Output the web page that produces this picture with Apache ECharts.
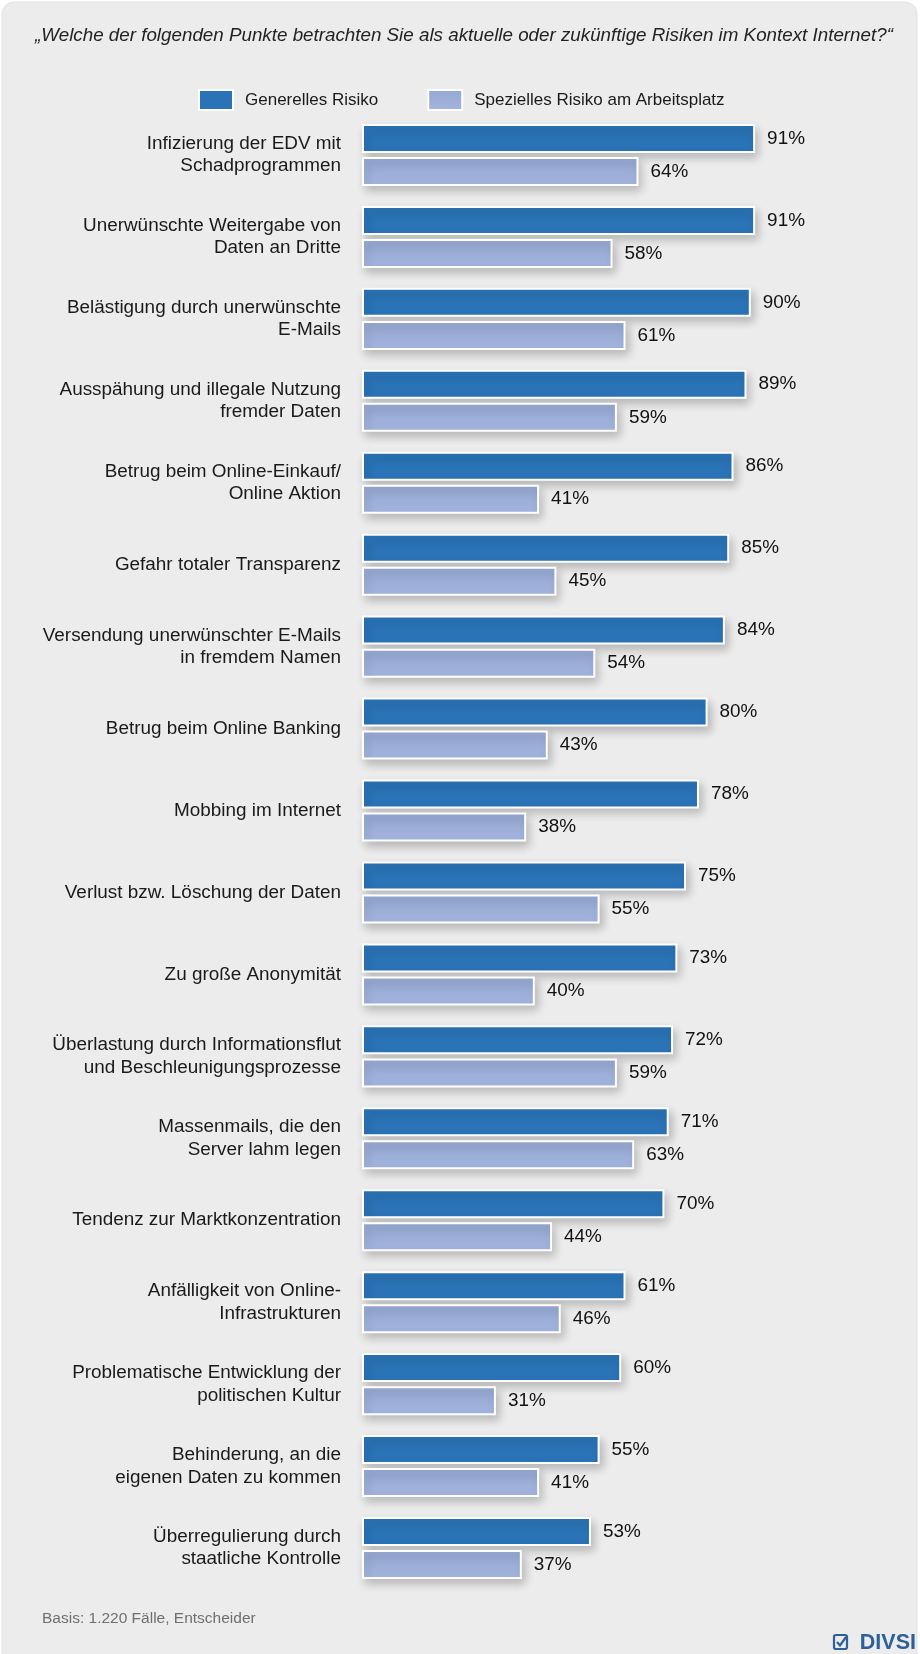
<!DOCTYPE html>
<html>
<head>
<meta charset="utf-8">
<script src="https://cdn.jsdelivr.net/npm/echarts@6/dist/echarts.min.js"></script>
<style>
html,body{margin:0;padding:0;background:#fff;}
#c{width:920px;height:1654px;}
</style>
</head>
<body>
<div id="c"></div>
<script>
var categories = [
  "Infizierung der EDV mit\nSchadprogrammen",
  "Unerwünschte Weitergabe von\nDaten an Dritte",
  "Belästigung durch unerwünschte\nE-Mails",
  "Ausspähung und illegale Nutzung\nfremder Daten",
  "Betrug beim Online-Einkauf/\nOnline Aktion",
  "Gefahr totaler Transparenz",
  "Versendung unerwünschter E-Mails\nin fremdem Namen",
  "Betrug beim Online Banking",
  "Mobbing im Internet",
  "Verlust bzw. Löschung der Daten",
  "Zu große Anonymität",
  "Überlastung durch Informationsflut\nund Beschleunigungsprozesse",
  "Massenmails, die den\nServer lahm legen",
  "Tendenz zur Marktkonzentration",
  "Anfälligkeit von Online-\nInfrastrukturen",
  "Problematische Entwicklung der\npolitischen Kultur",
  "Behinderung, an die\neigenen Daten zu kommen",
  "Überregulierung durch\nstaatliche Kontrolle"
];
var generellesRisiko = [91, 91, 90, 89, 86, 85, 84, 80, 78, 75, 73, 72, 71, 70, 61, 60, 55, 53];
var speziellesRisiko = [64, 58, 61, 59, 41, 45, 54, 43, 38, 55, 40, 59, 63, 44, 46, 31, 41, 37];
var seriesNames = ["Generelles Risiko", "Spezielles Risiko am Arbeitsplatz"];
var titleText = "„Welche der folgenden Punkte betrachten Sie als aktuelle oder zukünftige Risiken im Kontext Internet?“";
var footerText = "Basis: 1.220 Fälle, Entscheider";
var logoText = "DIVSI";

var FONT = "Liberation Sans, Arial, sans-serif";
var chart = echarts.init(document.getElementById('c'), null, {renderer: 'canvas'});

var shadow = {shadowColor: 'rgba(0,0,0,0.22)', shadowBlur: 9, shadowOffsetX: 3, shadowOffsetY: 5};

chart.setOption({
  backgroundColor: '#ffffff',
  animation: false,
  graphic: [
    {type: 'rect', z: -10, shape: {x: 2, y: 2, width: 915, height: 1670, r: 12},
     style: {fill: '#ececec', stroke: '#e2e2e2', lineWidth: 1}},
    {type: 'text', x: 464, y: 36, z: 10,
     style: {text: titleText, fill: '#222', font: 'italic 18.8px ' + FONT, textAlign: 'center', textVerticalAlign: 'middle'}},
    {type: 'text', x: 42, y: 1619, z: 10,
     style: {text: footerText, fill: '#6f6f6f', font: '15.5px ' + FONT, textAlign: 'left', textVerticalAlign: 'middle'}},
    {type: 'rect', z: 10, shape: {x: 834, y: 1635, width: 13, height: 14, r: 2},
     style: {fill: 'none', stroke: '#2d6096', lineWidth: 2.2}},
    {type: 'polyline', z: 11, shape: {points: [[837, 1642], [840, 1645.5], [846, 1637]]},
     style: {fill: 'none', stroke: '#2d6096', lineWidth: 2.2}},
    {type: 'text', x: 916, y: 1643, z: 10,
     style: {text: logoText, fill: '#2d6096', font: 'bold 21.5px ' + FONT, textAlign: 'right', textVerticalAlign: 'middle'}}
  ],
  legend: {
    left: 193, top: 84,
    itemWidth: 34, itemHeight: 20, itemGap: 49,
    icon: 'rect',
    textStyle: {fontFamily: FONT, fontSize: 17, color: '#1a1a1a', padding: [0, 0, 0, 7]},
    itemStyle: {shadowBlur: 0, shadowOffsetX: 0, shadowOffsetY: 0, borderColor: '#fff', borderWidth: 2},
    data: seriesNames
  },
  grid: {left: 362, right: 126, top: 114, bottom: 65, containLabel: false},
  xAxis: {
    type: 'value', min: 0, max: 100, interval: 10, show: false
  },
  yAxis: {
    type: 'category', data: categories, inverse: true,
    axisLine: {show: false}, axisTick: {show: false}, splitLine: {show: false},
    axisLabel: {fontFamily: FONT, fontSize: 18.9, color: '#1a1a1a', lineHeight: 22.5, margin: 21, align: 'right'}
  },
  series: [
    {
      name: seriesNames[0], type: 'bar', data: generellesRisiko,
      barWidth: 29, barGap: '14%', barCategoryGap: '26%',
      itemStyle: Object.assign({color: '#2a73b6', borderColor: '#ffffff', borderWidth: 2}, shadow),
      label: {show: true, position: 'right', distance: 12, formatter: '{c}%', fontFamily: FONT, fontSize: 18.9, color: '#111'}
    },
    {
      name: seriesNames[1], type: 'bar', data: speziellesRisiko,
      barWidth: 29, barGap: '14%',
      itemStyle: Object.assign({
        color: new echarts.graphic.LinearGradient(0, 0, 0, 1, [
          {offset: 0, color: '#95a8d1'}, {offset: 1, color: '#a3b5de'}
        ]),
        borderColor: '#ffffff', borderWidth: 2}, shadow),
      label: {show: true, position: 'right', distance: 12, formatter: '{c}%', fontFamily: FONT, fontSize: 18.9, color: '#111'}
    }
  ]
});
</script>
</body>
</html>
